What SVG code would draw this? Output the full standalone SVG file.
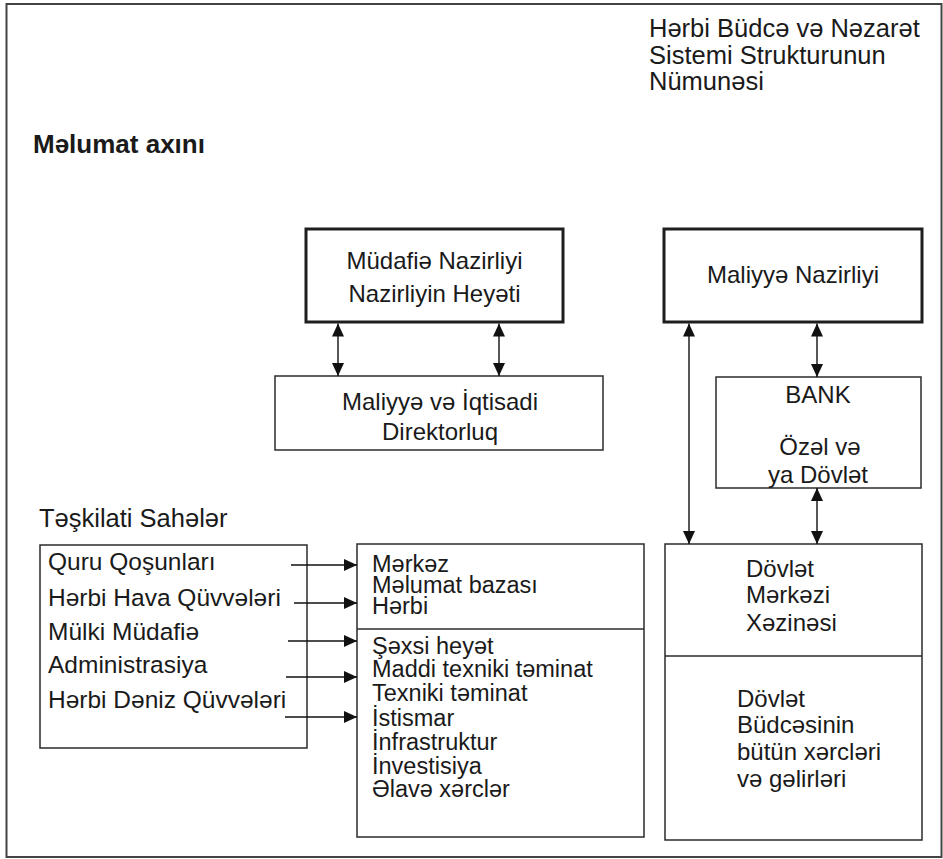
<svg xmlns="http://www.w3.org/2000/svg" width="943" height="859" viewBox="0 0 943 859">
<style>
  text { font-family: "Liberation Sans", Arial, sans-serif; font-size: 24px; fill: #1a1a1a; }
  .title { font-size: 25.5px; }
  .bold { font-weight: bold; font-size: 26px; }
  .lab { font-size: 25.5px; }
  .left { font-size: 24.5px; }
  .tight { font-size: 23.5px; }
  .mid { text-anchor: middle; }
  .box { fill: #ffffff; stroke: #2b2b2b; stroke-width: 1.5; }
  .thick { fill: #ffffff; stroke: #1e1e1e; stroke-width: 3; }
  .div { stroke: #2b2b2b; stroke-width: 1.5; fill: none; }
  .conn { stroke: #111111; stroke-width: 1.4; fill: none; }
</style>
<defs>
  <marker id="ah" markerUnits="userSpaceOnUse" markerWidth="13" markerHeight="12" viewBox="0 0 13 12" refX="13" refY="6" orient="auto-start-reverse">
    <path d="M0,0 L13,6 L0,12 z" fill="#111111"/>
  </marker>
</defs>
<rect x="0" y="0" width="943" height="859" fill="#ffffff"/>
<rect x="6.5" y="4" width="935" height="853" fill="none" stroke="#444444" stroke-width="2"/>

<g id="title">
  <text class="title" x="649" y="37">Hərbi Büdcə və Nəzarət</text>
  <text class="title" x="649" y="64">Sistemi Strukturunun</text>
  <text class="title" x="649" y="90">Nümunəsi</text>
</g>
<g id="flow-label">
  <text class="bold" x="33" y="153">Məlumat axını</text>
</g>

<g id="mudafie">
  <rect class="thick" x="306" y="229" width="257" height="93"/>
  <text class="mid" x="434.5" y="269">Müdafiə Nazirliyi</text>
  <text class="mid" x="434.5" y="302">Nazirliyin Heyəti</text>
</g>
<g id="iqtisadi">
  <rect class="box" x="275" y="376" width="328" height="74"/>
  <text class="mid" x="440" y="410">Maliyyə və İqtisadi</text>
  <text class="mid" x="440" y="440">Direktorluq</text>
</g>
<g id="maliyye">
  <rect class="thick" x="664" y="229" width="258" height="93"/>
  <text class="mid" x="793" y="283">Maliyyə Nazirliyi</text>
</g>
<g id="bank">
  <rect class="box" x="716" y="377" width="205" height="111"/>
  <text class="mid" x="818" y="403">BANK</text>
  <text class="mid" x="820" y="455">Özəl və</text>
  <text class="mid" x="818" y="483">ya Dövlət</text>
</g>
<g id="xezine">
  <rect class="box" x="665" y="544" width="257" height="296"/>
  <line class="div" x1="665" y1="656" x2="922" y2="656"/>
  <text x="746" y="577">Dövlət</text>
  <text x="746" y="603">Mərkəzi</text>
  <text x="746" y="631">Xəzinəsi</text>
  <text x="737" y="707">Dövlət</text>
  <text x="737" y="733">Büdcəsinin</text>
  <text x="737" y="760">bütün xərcləri</text>
  <text x="737" y="787">və gəlirləri</text>
</g>
<g id="melumat">
  <rect class="box" x="357" y="544" width="287" height="293"/>
  <line class="div" x1="357" y1="629" x2="644" y2="629"/>
  <text class="tight" x="372" y="572">Mərkəz</text>
  <text class="tight" x="372" y="593">Məlumat bazası</text>
  <text class="tight" x="372" y="614">Hərbi</text>
  <text class="tight" x="372" y="654">Şəxsi heyət</text>
  <text class="tight" x="372" y="677">Maddi texniki təminat</text>
  <text class="tight" x="372" y="701">Texniki təminat</text>
  <text class="tight" x="372" y="726">İstismar</text>
  <text class="tight" x="372" y="750">İnfrastruktur</text>
  <text class="tight" x="372" y="774">İnvestisiya</text>
  <text class="tight" x="372" y="797">Əlavə xərclər</text>
</g>
<g id="sahe-label">
  <text class="lab" x="39" y="527">Təşkilati Sahələr</text>
</g>
<g id="saheler">
  <rect class="box" x="40" y="545" width="267" height="203"/>
  <text class="left" x="48" y="570">Quru Qoşunları</text>
  <text class="left" x="48" y="606">Hərbi Hava Qüvvələri</text>
  <text class="left" x="48" y="640">Mülki Müdafiə</text>
  <text class="left" x="48" y="673">Administrasiya</text>
  <text class="left" x="48" y="708">Hərbi Dəniz Qüvvələri</text>
</g>

<g id="connectors">
  <line class="conn" x1="338" y1="323.5" x2="338" y2="376" marker-start="url(#ah)" marker-end="url(#ah)"/>
  <line class="conn" x1="499" y1="323.5" x2="499" y2="376" marker-start="url(#ah)" marker-end="url(#ah)"/>
  <line class="conn" x1="817" y1="323.5" x2="817" y2="377" marker-start="url(#ah)" marker-end="url(#ah)"/>
  <line class="conn" x1="817" y1="488" x2="817" y2="544" marker-start="url(#ah)" marker-end="url(#ah)"/>
  <line class="conn" x1="689" y1="323.5" x2="689" y2="544" marker-start="url(#ah)" marker-end="url(#ah)"/>
  <line class="conn" x1="291" y1="565" x2="357" y2="565" marker-end="url(#ah)"/>
  <line class="conn" x1="294" y1="603" x2="357" y2="603" marker-end="url(#ah)"/>
  <line class="conn" x1="288" y1="641" x2="357" y2="641" marker-end="url(#ah)"/>
  <line class="conn" x1="286" y1="677" x2="357" y2="677" marker-end="url(#ah)"/>
  <line class="conn" x1="285" y1="717" x2="357" y2="717" marker-end="url(#ah)"/>
</g>
</svg>
